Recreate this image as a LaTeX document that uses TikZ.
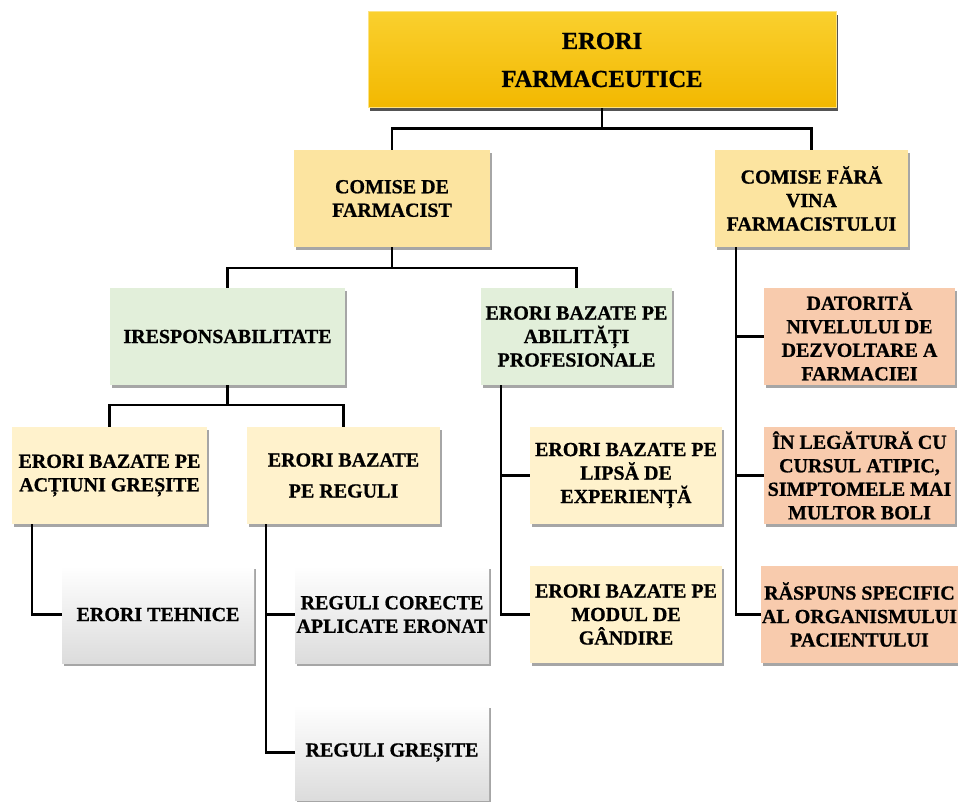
\documentclass[tikz,border=0pt]{standalone}
\usepackage{fontspec}
\setmainfont{Liberation Serif}[BoldFeatures={FakeBold=0.8}]
\usetikzlibrary{shadows}
\definecolor{gold1}{HTML}{FAD02E}
\definecolor{gold2}{HTML}{F2B800}
\definecolor{cream}{HTML}{FFF2CC}
\definecolor{sand}{HTML}{FCE4A0}
\definecolor{mint}{HTML}{E2EFDA}
\definecolor{salmon}{HTML}{F8CBAD}
\definecolor{mist}{HTML}{DCDCDC}
\tikzset{
  x=1pt, y=-1pt,
  base/.style={minimum height=97pt, align=center, inner sep=1pt,
    font=\bfseries\fontsize{20}{23.5}\selectfont,
    drop shadow={shadow xshift=2pt, shadow yshift=-3pt, opacity=0.35, fill=black}},
  headbox/.style={base, top color=gold1, bottom color=gold2, draw=gold1!60!white, line width=1pt,
    font=\bfseries\fontsize{24.5}{38}\selectfont,
    drop shadow={shadow xshift=2pt, shadow yshift=-3pt, opacity=0.5, fill=black}},
  camp/.style={base, fill=sand},
  kind/.style={base, fill=mint},
  item/.style={base, fill=cream},
  cause/.style={base, fill=salmon},
  leaf/.style={base, top color=white, bottom color=mist},
  link/.style={draw=black, line width=2.2pt}
}
\begin{document}
\begin{tikzpicture}
\useasboundingbox (0,0) rectangle (958,802);

\node[headbox, minimum width=468pt, minimum height=96pt] (top) at (602,60) {ERORI\\FARMACEUTICE};

\node[camp, minimum width=196pt] (cdf) at (392,198.5) {COMISE DE\\FARMACIST};
\node[camp, minimum width=193pt] (cfv) at (811.5,198.5) {COMISE FĂRĂ\\VINA\\FARMACISTULUI};

\node[kind, minimum width=235pt] (iresp) at (227.5,336.5) {IRESPONSABILITATE};
\node[kind, minimum width=191pt] (abil) at (576.5,336.5) {ERORI BAZATE PE\\ABILITĂȚI\\PROFESIONALE};

\node[item, minimum width=195pt] (act) at (109.5,475.5) {ERORI BAZATE PE\\ACȚIUNI GREȘITE};
\node[item, minimum width=193pt, font=\bfseries\fontsize{20}{31}\selectfont] (reg) at (343.5,475.5) {ERORI BAZATE\\PE REGULI};
\node[item, minimum width=192pt] (lipsa) at (626,475.5) {ERORI BAZATE PE\\LIPSĂ DE\\EXPERIENȚĂ};
\node[item, minimum width=192pt] (modul) at (626,614.5) {ERORI BAZATE PE\\MODUL DE\\GÂNDIRE};

\node[leaf, minimum width=192pt] (tehn) at (158,614.5) {ERORI TEHNICE};
\node[leaf, minimum width=194pt] (rcor) at (392,614.5) {REGULI CORECTE\\APLICATE ERONAT};
\node[leaf, minimum width=194pt, minimum height=95pt] (rgr) at (392,752.5) {REGULI GREȘITE};

\node[cause, minimum width=191pt] (dat) at (859.5,336.5) {DATORITĂ\\NIVELULUI DE\\DEZVOLTARE A\\FARMACIEI};
\node[cause, minimum width=191pt] (leg) at (859.5,475.5) {ÎN LEGĂTURĂ CU\\CURSUL ATIPIC,\\SIMPTOMELE MAI\\MULTOR BOLI};
\node[cause, minimum width=191pt] (rasp) at (859.5,614.5) {RĂSPUNS SPECIFIC\\AL ORGANISMULUI\\PACIENTULUI};

% tree branches
\draw[link] (top.south) -- ++(0,20) -| (cdf.north);
\draw[link] (top.south) ++(0,20) -| (cfv.north);
\draw[link] (cdf.south) -- ++(0,21) -| (iresp.north);
\draw[link] (cdf.south) ++(0,21) -| (abil.north);
\draw[link] (iresp.south) -- ++(0,20) -| (act.north);
\draw[link] (iresp.south) ++(0,20) -| (reg.north);

% side rails
\draw[link] ([xshift=20pt]act.south west) |- (tehn.west);
\draw[link] ([xshift=19pt]reg.south west) |- (rgr.west);
\draw[link] ([xshift=19pt]reg.south west) |- (rcor.west);
\draw[link] ([xshift=20pt]abil.south west) |- (modul.west);
\draw[link] ([xshift=20pt]abil.south west) |- (lipsa.west);
\draw[link] ([xshift=21pt]cfv.south west) |- (rasp.west);
\draw[link] ([xshift=21pt]cfv.south west) |- (leg.west);
\draw[link] ([xshift=21pt]cfv.south west) |- (dat.west);
\end{tikzpicture}
\end{document}
